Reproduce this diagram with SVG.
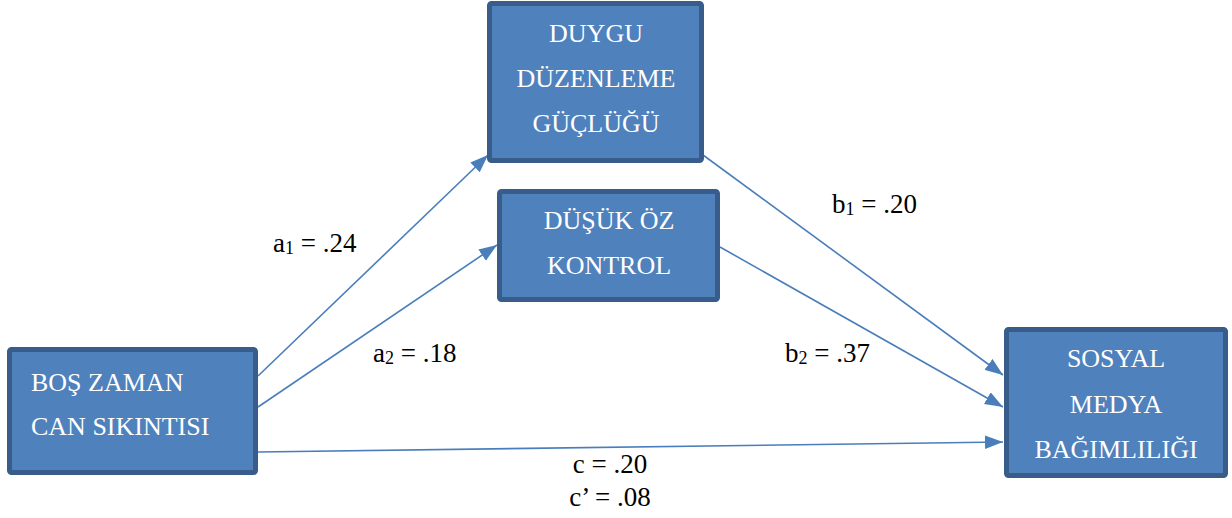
<svg xmlns="http://www.w3.org/2000/svg" width="1232" height="518" viewBox="0 0 1232 518">
<style>
.box{fill:#4f81bd;stroke:#385d8a;stroke-width:5}
text{font-family:'Liberation Serif','Times New Roman',Times,'DejaVu Serif',serif}
.bt{font-size:26px;fill:#ffffff}
.lbl{font-size:27px;fill:#000000}
.sub{font-size:18px}
.conn{stroke:#4a7ebb;stroke-width:1.6;fill:none;marker-end:url(#ah)}
</style>
<defs>
<marker id="ah" markerUnits="userSpaceOnUse" markerWidth="18" markerHeight="14" refX="16" refY="6" orient="auto" viewBox="0 0 16 12">
<path d="M0,0 L16,6 L0,12 z" fill="#4a7ebb"/>
</marker>
</defs>
<g id="connectors">
<line class="conn" x1="258" y1="376" x2="488" y2="155"/>
<line class="conn" x1="258" y1="407" x2="497" y2="245"/>
<line class="conn" x1="258" y1="452" x2="1003" y2="442"/>
<line class="conn" x1="703" y1="155" x2="1003" y2="375"/>
<line class="conn" x1="720" y1="247" x2="1003" y2="407"/>
</g>
<g id="duygu">
<rect class="box" x="489.5" y="3.5" width="212" height="157" rx="2"/>
<text class="bt" text-anchor="middle" x="596" y="42">DUYGU</text>
<text class="bt" text-anchor="middle" x="596" y="87">DÜZENLEME</text>
<text class="bt" text-anchor="middle" x="596" y="132">GÜÇLÜĞÜ</text>
</g>
<g id="dusuk">
<rect class="box" x="499.5" y="191.5" width="218" height="108" rx="2"/>
<text class="bt" text-anchor="middle" x="609" y="229">DÜŞÜK ÖZ</text>
<text class="bt" text-anchor="middle" x="609" y="274">KONTROL</text>
</g>
<g id="bos">
<rect class="box" x="9.5" y="349.5" width="246" height="123" rx="2"/>
<text class="bt" x="31" y="391">BOŞ ZAMAN</text>
<text class="bt" x="31" y="435">CAN SIKINTISI</text>
</g>
<g id="sosyal">
<rect class="box" x="1006.5" y="329.5" width="219" height="146" rx="2"/>
<text class="bt" text-anchor="middle" x="1116" y="367">SOSYAL</text>
<text class="bt" text-anchor="middle" x="1116" y="413">MEDYA</text>
<text class="bt" text-anchor="middle" x="1116" y="458">BAĞIMLILIĞI</text>
</g>
<g id="labels">
<text class="lbl" x="273" y="252">a<tspan class="sub" dy="2">1</tspan><tspan dy="-2"> = .24</tspan></text>
<text class="lbl" x="373" y="362">a<tspan class="sub" dy="2">2</tspan><tspan dy="-2"> = .18</tspan></text>
<text class="lbl" x="832" y="213">b<tspan class="sub" dy="2">1</tspan><tspan dy="-2"> = .20</tspan></text>
<text class="lbl" x="785" y="362">b<tspan class="sub" dy="2">2</tspan><tspan dy="-2"> = .37</tspan></text>
<text class="lbl" text-anchor="middle" x="610" y="473">c = .20</text>
<text class="lbl" text-anchor="middle" x="610" y="506">c’ = .08</text>
</g>
</svg>
